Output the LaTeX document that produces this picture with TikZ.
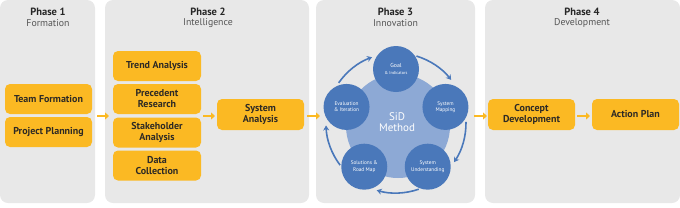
\documentclass[tikz,border=0pt]{standalone}
\usepackage{fontspec}
\setmainfont{PT Sans}
\usetikzlibrary{arrows.meta}
\definecolor{panel}{HTML}{E8E8E8}
\definecolor{gold}{HTML}{FBB923}
\definecolor{boxtext}{HTML}{2E2A25}
\definecolor{dblue}{HTML}{4A78BA}
\definecolor{lblue}{HTML}{8DA9D5}
\definecolor{subtext}{HTML}{555555}
\begin{document}
\begin{tikzpicture}[x=1pt,y=-1pt,
  panelbg/.style={fill=panel, rounded corners=8pt},
  gbox/.style={fill=gold, rounded corners=5pt, minimum width=87pt, minimum height=30pt, inner sep=1pt, align=center, font=\bfseries\fontsize{10}{11}\selectfont, text=boxtext},
  ptitle/.style={font=\bfseries\fontsize{10.5}{11}\selectfont, text=black!85},
  psub/.style={font=\fontsize{9.8}{11}\selectfont, text=subtext},
  yarrow/.style={draw=gold, line width=2.2pt, -{Triangle[length=4pt,width=7pt]}},
  bcircle/.style={circle, fill=dblue, minimum size=46pt, inner sep=0pt, align=center, text=white, font=\fontsize{5.3}{6.3}\selectfont},
  barrow/.style={draw=dblue, line width=1.6pt, -{Stealth[length=5pt,width=6pt]}}
]
\useasboundingbox (0,0) rectangle (680,207);
% panels
\fill[panelbg] (0,0) rectangle (95,203);
\fill[panelbg] (105,0) rectangle (309,203);
\fill[panelbg] (316,0) rectangle (475,203);
\fill[panelbg] (485,0) rectangle (680,203);
% titles
\node[ptitle] (t1) at (48,12) {Phase 1};
\node[psub] (s1) at (48,23.5) {Formation};
\node[ptitle] (t2) at (208,12) {Phase 2};
\node[psub] (s2) at (208,23.5) {Intelligence};
\node[ptitle] (t3) at (395.5,12) {Phase 3};
\node[psub] (s3) at (395.5,23.5) {Innovation};
\node[ptitle] (t4) at (582,12) {Phase 4};
\node[psub] (s4) at (582,23.5) {Development};
% phase 1
\node[gbox] (team) at (48.5,99) {Team Formation};
\node[gbox] (plan) at (48.5,132) {Project Planning};
% phase 2
\node[gbox, minimum width=88pt] (trend) at (157,66) {Trend Analysis};
\node[gbox, minimum width=88pt] (prec) at (157,99) {Precedent\\Research};
\node[gbox, minimum width=88pt] (stake) at (157,132.5) {Stakeholder\\Analysis};
\node[gbox, minimum width=88pt] (data) at (157,165.5) {Data\\Collection};
\node[gbox, minimum height=31pt] (sys) at (260.5,114.5) {System\\Analysis};
% phase 4
\node[gbox, minimum height=31pt] (concept) at (531.5,114.5) {Concept\\Development};
\node[gbox, minimum height=31pt] (action) at (635.5,114.5) {Action Plan};
% phase 3
\coordinate (C) at (396,123);
\node[circle, fill=lblue, minimum size=104pt, inner sep=0pt] (big) at (398,126) {};
\node[text=white, align=center, font=\fontsize{11}{11.5}\selectfont] (sid) at (397,122) {SiD\\Method};
\node[bcircle] (goal) at ([shift={(C)}]-90:54) {{\fontsize{5.8}{6.3}\selectfont Goal}\\{\fontsize{4.3}{5}\selectfont \& Indicators}};
\node[bcircle] (map) at ([shift={(C)}]-18:52) {System\\Mapping};
\node[bcircle] (und) at ([shift={(C)}]54:54) {System\\Understanding};
\node[bcircle] (sol) at ([shift={(C)}]126:54) {Solutions \&\\Road Map};
\node[bcircle] (eval) at ([shift={(C)}]-162:52) {Evaluation\\\& Iteration};
\draw[barrow] ([shift={(C)}]-145:70) arc[start angle=-145, end angle=-110, radius=70];
\draw[barrow] ([shift={(C)}]-73:70) arc[start angle=-73, end angle=-38, radius=70];
\draw[barrow] ([shift={(C)}]-1:70) arc[start angle=-1, end angle=34, radius=70];
\draw[barrow] ([shift={(C)}]71:70) arc[start angle=71, end angle=106, radius=70];
\draw[barrow] ([shift={(C)}]143:70) arc[start angle=143, end angle=178, radius=70];
% yellow arrows
\coordinate (a1s) at (97,116); \coordinate (a1e) at (109,116);
\coordinate (a2s) at (203,116); \coordinate (a2e) at (215,116);
\coordinate (a3s) at (307,116); \coordinate (a3e) at (320,116);
\coordinate (a4s) at (474,116); \coordinate (a4e) at (487,116);
\coordinate (a5s) at (577,116); \coordinate (a5e) at (590,116);
\draw[yarrow] (a1s) -- (a1e);
\draw[yarrow] (a2s) -- (a2e);
\draw[yarrow] (a3s) -- (a3e);
\draw[yarrow] (a4s) -- (a4e);
\draw[yarrow] (a5s) -- (a5e);
\end{tikzpicture}
\end{document}
